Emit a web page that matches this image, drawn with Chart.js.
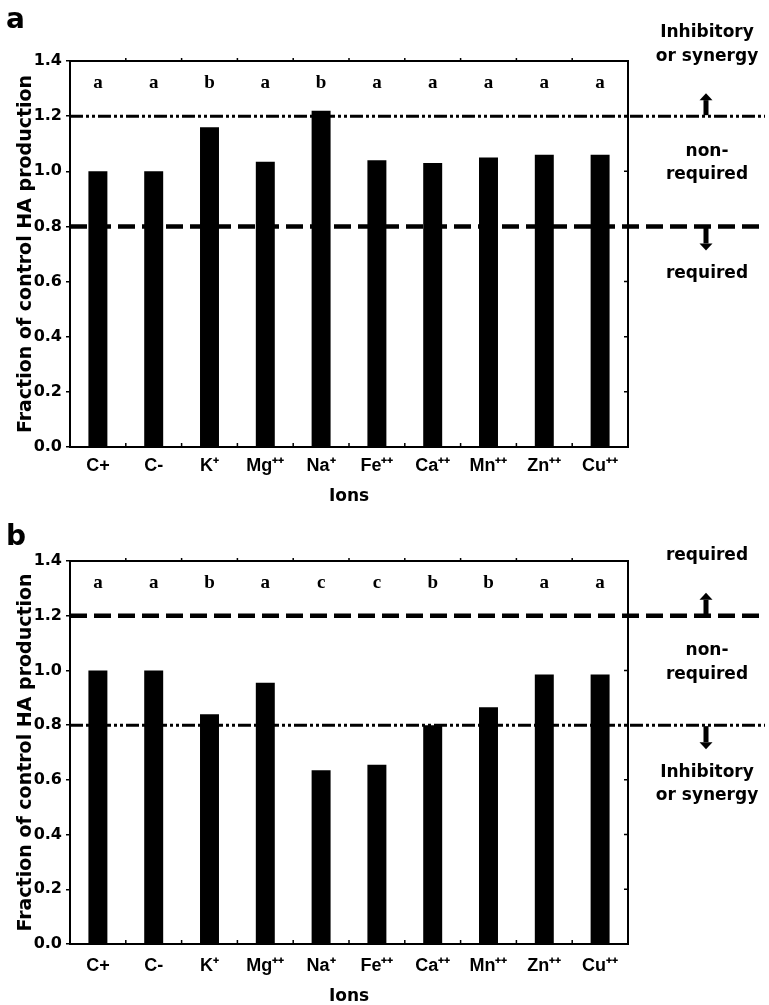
<!DOCTYPE html>
<html>
<head>
<meta charset="utf-8">
<script src="https://cdn.jsdelivr.net/npm/chart.js@4.4.1/dist/chart.umd.min.js"></script>
<style>
  html, body { margin: 0; padding: 0; background: #fff; }
  canvas { position: absolute; left: 0; }
  #chartA { top: 0; }
  #chartB { top: 505px; }
</style>
</head>
<body>
<canvas id="chartA" width="769" height="505"></canvas>
<canvas id="chartB" width="769" height="500"></canvas>
<script>
// ions on the x axis
const IONS = ['C+', 'C-', 'K⁺', 'Mg⁺⁺', 'Na⁺', 'Fe⁺⁺', 'Ca⁺⁺', 'Mn⁺⁺', 'Zn⁺⁺', 'Cu⁺⁺'];

// fraction of control HA production
const VALUES_A = [1.00, 1.00, 1.16, 1.035, 1.22, 1.04, 1.03, 1.05, 1.06, 1.06];
const VALUES_B = [1.00, 1.00, 0.84, 0.955, 0.635, 0.655, 0.80, 0.865, 0.985, 0.985];

// significance letters above bars
const LETTERS_A = ['a', 'a', 'b', 'a', 'b', 'a', 'a', 'a', 'a', 'a'];
const LETTERS_B = ['a', 'a', 'b', 'a', 'c', 'c', 'b', 'b', 'a', 'a'];
const LETTER_LEVEL = 1.32;

// threshold lines (lower, upper)
const THRESHOLDS = [0.8, 1.2];

// side notes
const NOTES_A = { above: ['Inhibitory', 'or synergy'], middle: ['non-', 'required'], below: ['required'] };
const NOTES_B = { above: ['required'], middle: ['non-', 'required'], below: ['Inhibitory', 'or synergy'] };

const SANS = '"DejaVu Sans", Verdana, sans-serif';

function drawLine(ctx, x1, x2, py, style) {
  ctx.save();
  ctx.strokeStyle = '#000';
  if (style === 'dash') {
    ctx.lineWidth = 4.5;
    ctx.setLineDash([17, 7]);
  } else {
    ctx.lineWidth = 3;
    ctx.setLineDash([13, 3, 3, 3, 3, 3]);
  }
  ctx.beginPath();
  ctx.moveTo(x1, py);
  ctx.lineTo(x2, py);
  ctx.stroke();
  ctx.restore();
}

function drawArrow(ctx, cx, from, to) {
  const dir = to < from ? -1 : 1;
  ctx.save();
  ctx.fillStyle = '#000';
  const shaftEnd = to - dir * 7;
  ctx.fillRect(cx - 2.5, Math.min(from, shaftEnd), 5, Math.abs(shaftEnd - from));
  ctx.beginPath();
  ctx.moveTo(cx - 6.5, shaftEnd);
  ctx.lineTo(cx + 6.5, shaftEnd);
  ctx.lineTo(cx, to);
  ctx.closePath();
  ctx.fill();
  ctx.restore();
}

const decorPlugin = {
  id: 'decor',
  afterDatasetsDraw(chart, args, opts) {
    const { ctx, chartArea: area, scales: { x, y } } = chart;
    const step = (area.right - area.left) / IONS.length;
    ctx.save();

    // frame and inner ticks
    ctx.strokeStyle = '#000';
    ctx.lineWidth = 2;
    ctx.strokeRect(area.left, area.top, area.right - area.left, area.bottom - area.top);
    ctx.lineWidth = 1.5;
    ctx.beginPath();
    for (let i = 1; i < IONS.length; i++) {
      const px = x.getPixelForValue(i) - step / 2;
      ctx.moveTo(px, area.top);
      ctx.lineTo(px, area.top - 3);
      ctx.moveTo(px, area.bottom);
      ctx.lineTo(px, area.bottom - 4);
    }
    y.ticks.forEach(t => {
      const py = y.getPixelForValue(t.value);
      ctx.moveTo(area.right, py);
      ctx.lineTo(area.right - 4, py);
    });
    ctx.stroke();

    // letters
    ctx.fillStyle = '#000';
    ctx.font = 'bold 19px "Liberation Serif", serif';
    ctx.textAlign = 'center';
    ctx.textBaseline = 'middle';
    opts.letters.forEach((l, i) => {
      ctx.fillText(l, x.getPixelForValue(i), y.getPixelForValue(LETTER_LEVEL));
    });

    // threshold lines
    const lowY = y.getPixelForValue(THRESHOLDS[0]);
    const upY = y.getPixelForValue(THRESHOLDS[1]);
    const lineEnd = chart.width - 4;
    drawLine(ctx, area.left, lineEnd, upY, opts.upperStyle);
    drawLine(ctx, area.left, lineEnd, lowY, opts.lowerStyle);

    // side notes
    const nx = 707;
    ctx.font = 'bold 17px ' + SANS;
    const lh = 23.5;
    const above = opts.notes.above;
    above.forEach((t, i) => {
      ctx.fillText(t, nx, upY - 60 - (above.length - 1 - i) * lh);
    });
    const mid = (upY + lowY) / 2 - 8;
    opts.notes.middle.forEach((t, i) => {
      ctx.fillText(t, nx, mid + (i - (opts.notes.middle.length - 1) / 2) * lh);
    });
    opts.notes.below.forEach((t, i) => {
      ctx.fillText(t, nx, lowY + 47 + i * lh);
    });
    drawArrow(ctx, nx - 1, upY - 1, upY - 23);
    drawArrow(ctx, nx - 1, lowY + 1, lowY + 24);

    // panel label
    ctx.font = 'bold 28px ' + SANS;
    ctx.textAlign = 'left';
    ctx.textBaseline = 'alphabetic';
    ctx.fillText(opts.panel, 6, opts.panelY);
    ctx.restore();
  }
};

function makeChart(id, values, letters, notes, cfg) {
  const ctx = document.getElementById(id).getContext('2d');
  return new Chart(ctx, {
    type: 'bar',
    data: {
      labels: IONS,
      datasets: [{
        data: values,
        backgroundColor: '#000',
        borderWidth: 0,
        barPercentage: 0.34,
        categoryPercentage: 1.0
      }]
    },
    options: {
      responsive: false,
      animation: false,
      devicePixelRatio: 1,
      layout: { padding: { top: cfg.top, right: 141, left: 0, bottom: 0 } },
      plugins: {
        legend: { display: false },
        tooltip: { enabled: false },
        decor: {
          letters: letters,
          notes: notes,
          upperStyle: cfg.upperStyle,
          lowerStyle: cfg.lowerStyle,
          panel: cfg.panel,
          panelY: cfg.panelY
        }
      },
      scales: {
        x: {
          afterFit: (scale) => { scale.height = cfg.xHeight; },
          grid: { display: false, drawTicks: false },
          border: { display: false },
          ticks: {
            color: '#000',
            padding: cfg.xPad,
            maxRotation: 0,
            autoSkip: false,
            font: { family: '"Liberation Sans Narrow", "Liberation Sans", Arial, sans-serif', size: 18, weight: 'bold' }
          },
          title: {
            display: true,
            text: 'Ions',
            color: '#000',
            padding: { top: 0, bottom: cfg.titlePad },
            font: { family: SANS, size: 17, weight: 'bold', lineHeight: 1 }
          }
        },
        y: {
          min: 0,
          max: 1.4,
          afterFit: (scale) => { scale.width = 70; },
          grid: { drawOnChartArea: false, drawTicks: true, tickLength: 4, color: '#000', lineWidth: 1.5 },
          border: { display: false },
          ticks: {
            stepSize: 0.2,
            color: '#000',
            padding: 4,
            font: { family: SANS, size: 16, weight: 'bold' },
            callback: (v) => v.toFixed(1)
          },
          title: {
            display: true,
            text: 'Fraction of control HA production',
            color: '#000',
            padding: { top: 17, bottom: 0 },
            font: { family: SANS, size: 19, weight: 'bold', lineHeight: 1 }
          }
        }
      }
    },
    plugins: [decorPlugin]
  });
}

makeChart('chartA', VALUES_A, LETTERS_A, NOTES_A, {
  top: 61, xHeight: 58, xPad: 8, titlePad: 0,
  upperStyle: 'dashdot', lowerStyle: 'dash', panel: 'a', panelY: 28
});
makeChart('chartB', VALUES_B, LETTERS_B, NOTES_B, {
  top: 56, xHeight: 61, xPad: 11, titlePad: 0,
  upperStyle: 'dash', lowerStyle: 'dashdot', panel: 'b', panelY: 40
});
</script>
</body>
</html>
